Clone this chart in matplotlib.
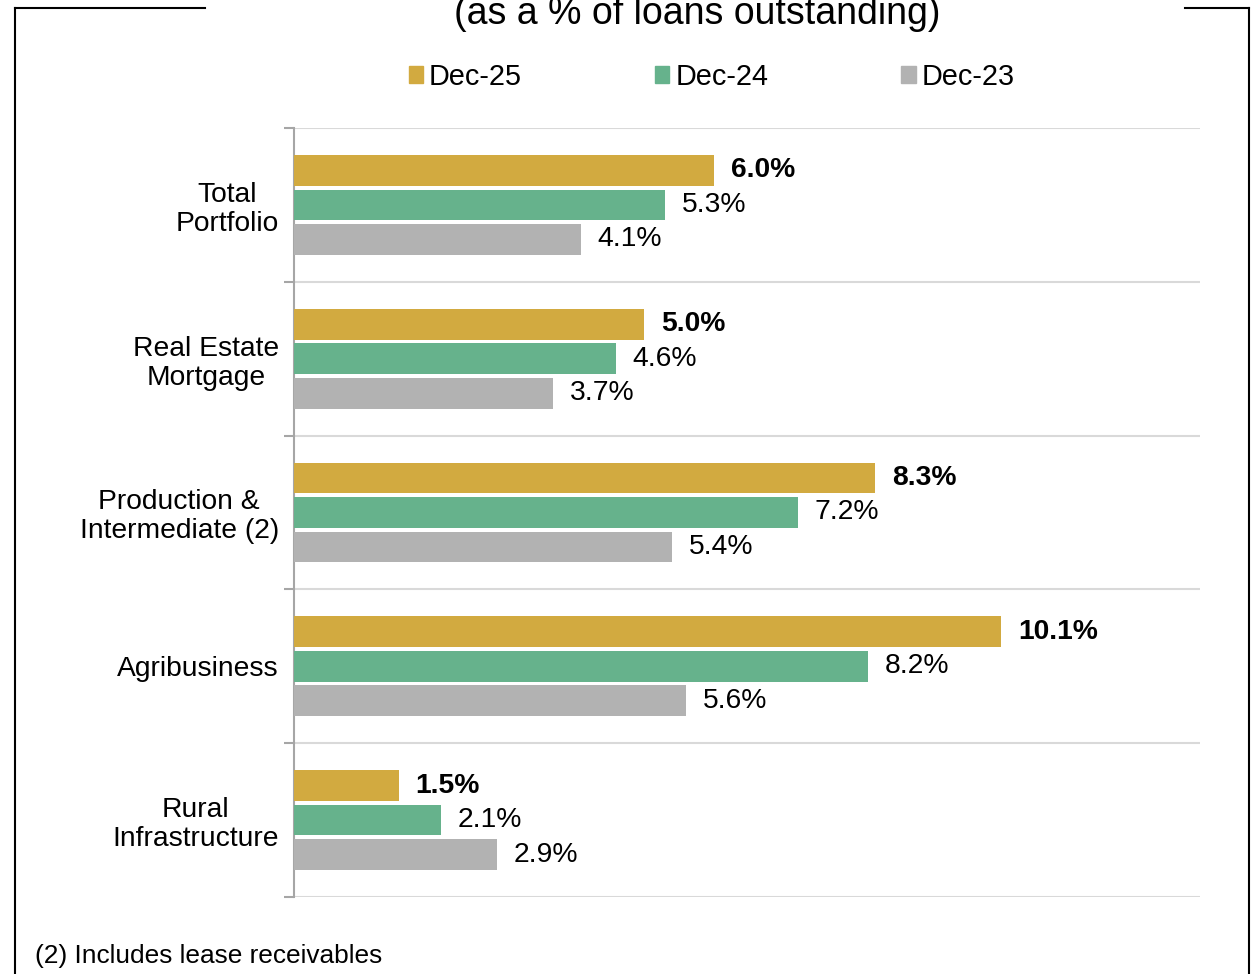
import matplotlib.pyplot as plt
from matplotlib.lines import Line2D
from matplotlib.patches import Patch
import numpy as np

plt.rcParams['font.family'] = ['Liberation Sans', 'DejaVu Sans']

categories = ['Total\nPortfolio', 'Real Estate\nMortgage', 'Production &\nIntermediate (2)',
              'Agribusiness', 'Rural\nInfrastructure']
series = ['Dec-25', 'Dec-24', 'Dec-23']
dec25 = [6.0, 5.0, 8.3, 10.1, 1.5]
dec24 = [5.3, 4.6, 7.2, 8.2, 2.1]
dec23 = [4.1, 3.7, 5.4, 5.6, 2.9]
colors = ['#D2AA40', '#66B28C', '#B2B2B2']

fig = plt.figure(figsize=(12.55, 9.74), dpi=100)
ax = fig.add_axes([0.2343, 0.0791, 0.7219, 0.7895])

y = np.arange(len(categories))
offsets = [-0.224, 0.0, 0.224]
for vals, off, col, name in zip([dec25, dec24, dec23], offsets, colors, series):
    ax.barh(y + off, vals, height=0.2, color=col, label=name, zorder=3)
    for yi, v in zip(y, vals):
        ax.annotate(f'{v:.1f}%', (v, yi + off), xytext=(12, 0), textcoords='offset points',
                    va='center', ha='left', fontsize=20.3,
                    fontweight='bold' if name == 'Dec-25' else 'normal')

ax.set_xlim(0, 12.94)
ax.set_ylim(len(categories) - 0.5, -0.5)
ax.set_xticks([])
ax.set_yticks(y)
ax.set_yticklabels(categories, fontsize=20.3, multialignment='center', linespacing=1.15)
ax.tick_params(axis='y', which='major', length=0, pad=11)
ax.set_yticks(np.arange(-0.5, len(categories)), minor=True)
ax.tick_params(axis='y', which='minor', length=7, width=1.5, color='#A6A6A6')
ax.grid(True, axis='y', which='minor', color='#D9D9D9', linewidth=1.5, zorder=0)
for s in ['top', 'right', 'bottom']:
    ax.spines[s].set_visible(False)
ax.spines['left'].set_color('#A6A6A6')
ax.spines['left'].set_linewidth(1.5)

handles = [Patch(color=c, label=s) for c, s in zip(colors, series)]
fig.legend(handles=handles, loc='center', bbox_to_anchor=(0.567, 1 - 77 / 974), ncol=3,
           frameon=False, fontsize=20.8, handlelength=0.5, handleheight=0.55,
           handletextpad=0.2, columnspacing=4.6)

fig.text(0.5554, 1 - 24 / 974, '(as a % of loans outstanding)', ha='center', va='baseline', fontsize=27)
fig.text(35 / 1255, 1 - 956 / 974, '(2) Includes lease receivables', ha='left', va='center', fontsize=18.9)

# frame around the chart, broken at the top for the title
W, H = 1255, 974
for xs, ys in [([15, 15], [8, 974]), ([15, 205], [8, 8]), ([1185, 1249], [8, 8]), ([1249, 1249], [8, 974])]:
    fig.add_artist(Line2D([x / W for x in xs], [1 - v / H for v in ys], color='black', linewidth=1.5))

fig.savefig('out.png', dpi=100)
